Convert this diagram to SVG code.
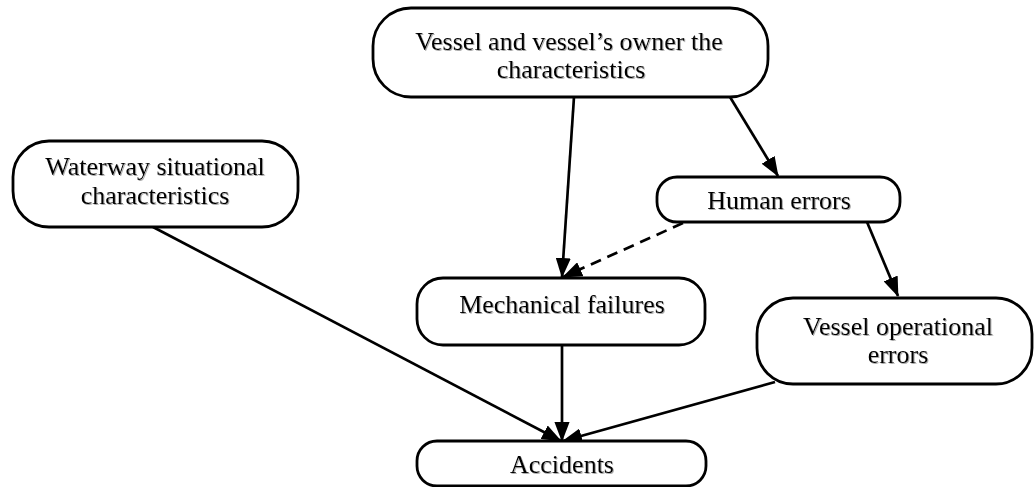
<svg xmlns="http://www.w3.org/2000/svg" width="1035" height="487" viewBox="0 0 1035 487">
<style>
.n{fill:#fff;stroke:#000;stroke-width:2.8}
.t{font-family:"Liberation Serif","Times New Roman",serif;font-size:26px;fill:#000;text-anchor:middle;filter:url(#sh)}
.c{stroke:#000;stroke-width:2.7;fill:none;marker-end:url(#ah)}
.d{stroke-dasharray:11,7}
</style>
<defs>
<marker id="ah" viewBox="0 0 20 15" refX="19" refY="7.5" markerWidth="7.4" markerHeight="5.6" orient="auto" markerUnits="strokeWidth" preserveAspectRatio="none">
<path d="M0,0 L20,7.5 L0,15 z" fill="#000"/>
</marker>
<filter id="sh" x="-5%" y="-20%" width="110%" height="140%">
<feDropShadow dx="1" dy="1" stdDeviation="0.7" flood-color="#777" flood-opacity="0.6"/>
</filter>
</defs>
<g id="connectors">
<line class="c" x1="574" y1="97" x2="562" y2="277"/>
<line class="c" x1="730" y1="97" x2="778" y2="176"/>
<line class="c d" x1="683" y1="223" x2="563" y2="277"/>
<line class="c" x1="867" y1="222" x2="898" y2="296"/>
<line class="c" x1="153" y1="227" x2="561" y2="441"/>
<line class="c" x1="562" y1="345" x2="562" y2="441"/>
<line class="c" x1="775" y1="382" x2="563" y2="441"/>
</g>
<g id="vessel-owner">
<rect class="n" x="373" y="8" width="395" height="89" rx="38"/>
<text class="t" x="569" y="50">Vessel and vessel’s owner the</text>
<text class="t" x="571" y="78">characteristics</text>
</g>
<g id="waterway">
<rect class="n" x="13" y="141" width="285" height="86" rx="36"/>
<text class="t" x="155" y="175">Waterway situational</text>
<text class="t" x="155" y="204">characteristics</text>
</g>
<g id="human-errors">
<rect class="n" x="657" y="177" width="243" height="45" rx="20"/>
<text class="t" x="779" y="209">Human errors</text>
</g>
<g id="mechanical">
<rect class="n" x="417" y="278" width="288" height="67" rx="26"/>
<text class="t" x="562" y="313">Mechanical failures</text>
</g>
<g id="vessel-operational">
<rect class="n" x="757" y="298" width="275" height="86" rx="36"/>
<text class="t" x="898" y="335">Vessel operational</text>
<text class="t" x="898" y="363">errors</text>
</g>
<g id="accidents">
<rect class="n" x="417" y="441" width="289" height="45" rx="20"/>
<text class="t" x="562" y="473">Accidents</text>
</g>
</svg>
